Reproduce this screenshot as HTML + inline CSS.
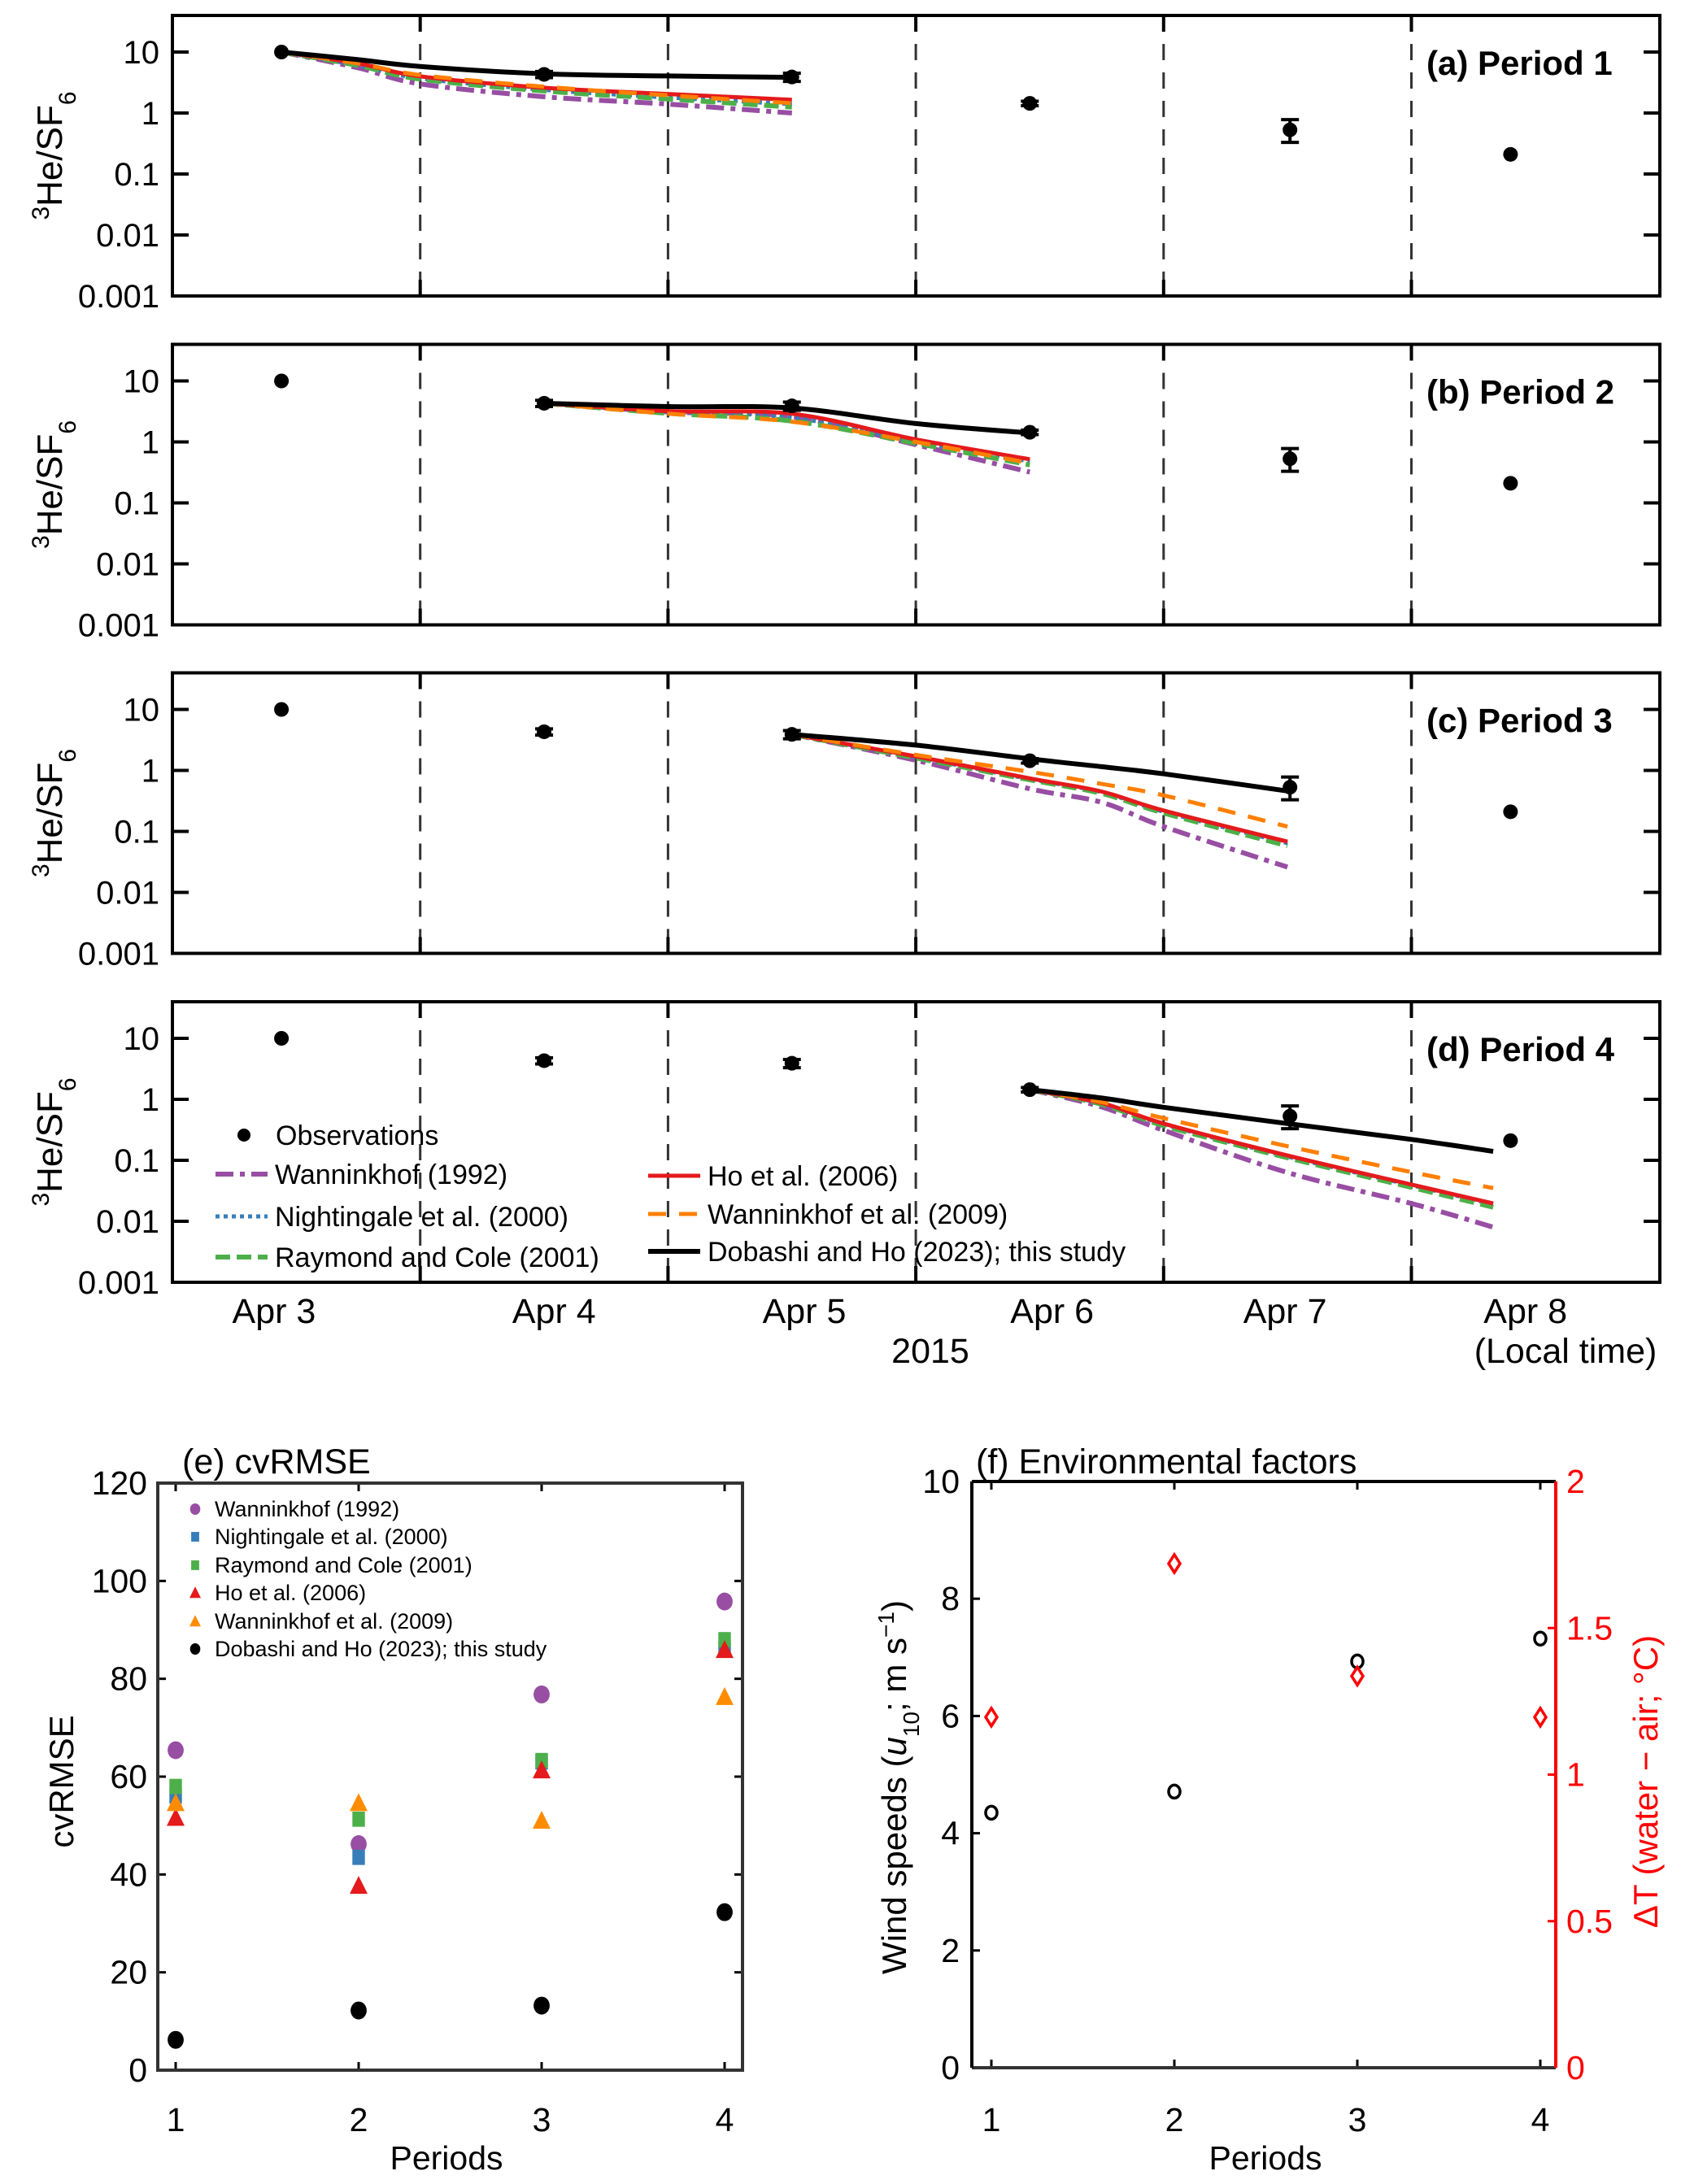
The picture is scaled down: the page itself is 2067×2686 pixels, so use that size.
<!DOCTYPE html>
<html><head><meta charset="utf-8"><style>
html,body{margin:0;padding:0;background:#fff}
svg text{font-family:"Liberation Sans",Arial,sans-serif}
</style></head><body>
<svg id="fig" xmlns="http://www.w3.org/2000/svg" width="2067" height="2681" viewBox="0 0 2067 2681">
<rect width="2067" height="2681" fill="#fff"/>
<g id="top"></g>
<g id="bottom"></g>
</svg>
<script>
// ===== Panel (a)-(d) data =====
const obsDays = [0.44, 1.50, 2.50, 3.46, 4.51, 5.40];
const obsVals = [10, 4.3, 3.9, 1.44, 0.53, 0.21];
const obsLo = [10, 3.8, 3.3, 1.32, 0.33, 0.21];
const obsHi = [10, 4.8, 4.5, 1.56, 0.78, 0.21];
const yTickVals = [10, 1, 0.1, 0.01, 0.001];
const yTickLabels = ["10", "1", "0.1", "0.01", "0.001"];
const dayLabels = ["Apr 3", "Apr 4", "Apr 5", "Apr 6", "Apr 7", "Apr 8"];
const dayLabelPos = [0.41, 1.54, 2.55, 3.55, 4.49, 5.46];
const panelTitles = ["(a) Period 1", "(b) Period 2", "(c) Period 3", "(d) Period 4"];

const tA = [0.44, 0.75, 1, 1.5, 2, 2.5];
const aPurple = [10, 5.5, 3.0, 1.85, 1.4, 1.0];
const aBlue = [10, 6.0, 3.7, 2.4, 1.8, 1.4];
const aGreen = [10, 6.0, 3.6, 2.3, 1.7, 1.25];
const aRed = [10, 6.5, 4.0, 2.6, 2.05, 1.65];
const aOrange = [10, 6.5, 4.2, 2.7, 1.95, 1.45];
const aBlack = [10, 7.5, 5.8, 4.4, 4.05, 3.85];

const tB = [1.5, 2, 2.5, 3, 3.46];
const bPurple = [4.3, 3.1, 2.6, 0.9, 0.32];
const bBlue = [4.3, 3.1, 2.5, 1.0, 0.48];
const bGreen = [4.3, 2.95, 2.2, 0.95, 0.42];
const bRed = [4.3, 3.2, 2.9, 1.1, 0.52];
const bOrange = [4.3, 2.9, 2.15, 1.0, 0.45];
const bBlack = [4.3, 3.8, 3.6, 2.0, 1.4];

const tC = [2.5, 3, 3.46, 3.75, 4, 4.5];
const cPurple = [3.9, 1.47, 0.5, 0.3, 0.12, 0.026];
const cBlue = [3.9, 1.65, 0.72, 0.44, 0.21, 0.064];
const cGreen = [3.9, 1.6, 0.70, 0.42, 0.20, 0.058];
const cRed = [3.9, 1.7, 0.74, 0.45, 0.22, 0.068];
const cOrange = [3.9, 1.8, 0.95, 0.6, 0.39, 0.12];
const cBlack = [3.9, 2.6, 1.55, 1.15, 0.88, 0.46];

const tD = [3.46, 3.75, 4, 4.5, 5, 5.33];
const dPurple = [1.44, 0.75, 0.31, 0.063, 0.0196, 0.008];
const dBlue = [1.44, 0.85, 0.39, 0.115, 0.039, 0.019];
const dGreen = [1.44, 0.83, 0.37, 0.11, 0.036, 0.017];
const dRed = [1.44, 0.87, 0.40, 0.12, 0.04, 0.0196];
const dOrange = [1.44, 0.9, 0.49, 0.17, 0.064, 0.035];
const dBlack = [1.44, 1.05, 0.74, 0.40, 0.22, 0.14];

// ===== Panel (e) data =====
const periods = [1, 2, 3, 4];
const eWann92 = [65.4, 46.2, 76.8, 95.8];
const eNight = [56, 43.5, 63, 86];
const eRaym = [58, 51.3, 63.3, 88];
const eHo = [51.6, 37.7, 61.3, 85.9];
const eWann09 = [54.6, 54.6, 51, 76.3];
const eDob = [6.2, 12.2, 13.2, 32.3];
const eTicks = [0, 20, 40, 60, 80, 100, 120];

// ===== Panel (f) data =====
const fWind = [4.35, 4.71, 6.93, 7.32];
const fDT = [1.196, 1.72, 1.336, 1.196];
const fWindTicks = [0, 2, 4, 6, 8, 10];
const fDTTicks = [0, 0.5, 1, 1.5, 2];
const fDTTickLabels = ["0", "0.5", "1", "1.5", "2"];

const NS = "http://www.w3.org/2000/svg";
function mk(tag, attrs, parent) {
  const e = document.createElementNS(NS, tag);
  for (const k in attrs) e.setAttribute(k, attrs[k]);
  parent.appendChild(e);
  return e;
}
const topG = document.getElementById("top");
const botG = document.getElementById("bottom");

const COL = {purple:"#984ea3", blue:"#377eb8", green:"#4daf4a", red:"#e41a1c", orange:"#ff7f00", black:"#000"};
const STY = {
  purple:{w:6, dash:"22 8 6 8"},
  blue:{w:5, dash:"5 5"},
  green:{w:6, dash:"18 8"},
  red:{w:5, dash:""},
  orange:{w:5, dash:"22 16"},
  black:{w:6, dash:""}
};

const L = 212, R = 2041, DAYW = 304.7;
const panelTops = [19, 423.5, 827.5, 1232];
const PH = 345, DEC = 75;
function X(d) { return L + d * DAYW; }
function Ylog(top, v) { return top + (1.6 - Math.log10(v)) * DEC; }

const panelSeries = [
  [tA, {purple:aPurple, blue:aBlue, green:aGreen, red:aRed, orange:aOrange, black:aBlack}],
  [tB, {purple:bPurple, blue:bBlue, green:bGreen, red:bRed, orange:bOrange, black:bBlack}],
  [tC, {purple:cPurple, blue:cBlue, green:cGreen, red:cRed, orange:cOrange, black:cBlack}],
  [tD, {purple:dPurple, blue:dBlue, green:dGreen, red:dRed, orange:dOrange, black:dBlack}]
];
const drawOrder = ["purple", "blue", "green", "red", "orange", "black"];
const letters = ["a", "b", "c", "d"];

function smoothPath(pts) {
  let d = "M" + pts[0][0].toFixed(1) + "," + pts[0][1].toFixed(1);
  for (let i = 0; i < pts.length - 1; i++) {
    const p0 = pts[Math.max(i - 1, 0)], p1 = pts[i], p2 = pts[i + 1], p3 = pts[Math.min(i + 2, pts.length - 1)];
    const c1x = p1[0] + (p2[0] - p0[0]) / 6, c1y = p1[1] + (p2[1] - p0[1]) / 6;
    const c2x = p2[0] - (p3[0] - p1[0]) / 6, c2y = p2[1] - (p3[1] - p1[1]) / 6;
    d += " C" + c1x.toFixed(1) + "," + c1y.toFixed(1) + " " + c2x.toFixed(1) + "," + c2y.toFixed(1) + " " + p2[0].toFixed(1) + "," + p2[1].toFixed(1);
  }
  return d;
}

panelTops.forEach((top, pi) => {
  const g = mk("g", {}, topG);
  
  
  const bot = top + PH;
  for (let d = 1; d <= 5; d++) {
    const ln = mk("line", {x1:X(d), x2:X(d), y1:top, y2:bot, stroke:"#333", "stroke-width":3, "stroke-dasharray":"20 15"}, g);
    
    
    mk("line", {x1:X(d), x2:X(d), y1:bot, y2:bot - 20, stroke:"#000", "stroke-width":4}, g);
    mk("line", {x1:X(d), x2:X(d), y1:top, y2:top + 20, stroke:"#000", "stroke-width":4}, g);
  }
  yTickVals.forEach((v, i) => {
    const y = Ylog(top, v);
    mk("line", {x1:L, x2:L + 20, y1:y, y2:y, stroke:"#000", "stroke-width":4}, g);
    mk("line", {x1:R, x2:R - 20, y1:y, y2:y, stroke:"#000", "stroke-width":4}, g);
    const t = mk("text", {x:196, y:y + 14, "font-size":40, "text-anchor":"end"}, g);
    t.textContent = yTickLabels[i];
    
    
  });
  const yl = mk("text", {x:0, y:0, "font-size":44, "text-anchor":"middle", transform:"translate(76," + (top + PH / 2) + ") rotate(-90)"}, g);
  
  
  yl.innerHTML = '<tspan baseline-shift="super" font-size="30">3</tspan><tspan>He/SF</tspan><tspan baseline-shift="sub" font-size="30">6</tspan>';
  const [ts, ser] = panelSeries[pi];
  drawOrder.forEach(k => {
    const pts = ts.map((t, i) => [X(t), Ylog(top, ser[k][i])]);
    const p = mk("path", {d:smoothPath(pts), fill:"none", stroke:COL[k], "stroke-width":STY[k].w, "stroke-dasharray":STY[k].dash}, g);
    
    
  });
  obsDays.forEach((d, i) => {
    const x = X(d);
    if (obsHi[i] !== obsLo[i]) {
      const y1 = Ylog(top, obsHi[i]), y2 = Ylog(top, obsLo[i]);
      mk("line", {x1:x, x2:x, y1:y1, y2:y2, stroke:"#000", "stroke-width":4}, g);
      mk("line", {x1:x - 11, x2:x + 11, y1:y1, y2:y1, stroke:"#000", "stroke-width":4}, g);
      mk("line", {x1:x - 11, x2:x + 11, y1:y2, y2:y2, stroke:"#000", "stroke-width":4}, g);
    }
    const c = mk("circle", {cx:x, cy:Ylog(top, obsVals[i]), r:9, fill:"#000"}, g);
    
    
  });
  const fr = mk("rect", {x:L, y:top, width:R - L, height:PH, fill:"none", stroke:"#000", "stroke-width":4}, g);
  
  
  const tt = mk("text", {x:1754, y:top + 73, "font-size":42, "font-weight":"bold"}, g);
  tt.textContent = panelTitles[pi];
  
  
});

dayLabels.forEach((s, i) => {
  const t = mk("text", {x:X(dayLabelPos[i]), y:1627, "font-size":43, "text-anchor":"middle"}, topG);
  t.textContent = s;
  
  
});
{
  const t1 = mk("text", {x:1144, y:1676, "font-size":43, "text-anchor":"middle"}, topG);
  t1.textContent = "2015";
  
  
  const t2 = mk("text", {x:1925, y:1676, "font-size":43, "text-anchor":"middle"}, topG);
  t2.textContent = "(Local time)";
  
  
}

{
  const lg = mk("g", {}, topG);
  
  
  mk("circle", {cx:300, cy:1396, r:8, fill:"#000"}, lg);
  const t0 = mk("text", {x:339, y:1408, "font-size":34}, lg);
  t0.textContent = "Observations";
  const items = [
    ["purple", "Wanninkhof (1992)", 265, 1444],
    ["blue", "Nightingale et al. (2000)", 265, 1496],
    ["green", "Raymond and Cole (2001)", 265, 1546],
    ["red", "Ho et al. (2006)", 797, 1446],
    ["orange", "Wanninkhof et al. (2009)", 797, 1493],
    ["black", "Dobashi and Ho (2023); this study", 797, 1539]
  ];
  items.forEach(it => {
    const e = mk("g", {}, lg);
    
    
    mk("line", {x1:it[2], x2:it[2] + 64, y1:it[3], y2:it[3], stroke:COL[it[0]], "stroke-width":STY[it[0]].w, "stroke-dasharray":STY[it[0]].dash}, e);
    const t = mk("text", {x:it[2] + 73, y:it[3] + 12, "font-size":34}, e);
    t.textContent = it[1];
  });
}

// ===== Panel e =====
const E_L = 194, E_R = 913, E_T = 1824, E_B = 2546;
function EX(p) { return 216 + (p - 1) * 225; }
function EY(v) { return E_B - v / 120 * (E_B - E_T); }
{
  const g = mk("g", {}, botG);
  
  
  eTicks.forEach(v => {
    const y = EY(v);
    mk("line", {x1:E_L, x2:E_L + 10, y1:y, y2:y, stroke:"#000", "stroke-width":3}, g);
    mk("line", {x1:E_R, x2:E_R - 10, y1:y, y2:y, stroke:"#000", "stroke-width":3}, g);
    const t = mk("text", {x:181, y:y + 14, "font-size":41, "text-anchor":"end"}, g);
    t.textContent = String(v);
    
    
  });
  periods.forEach(p => {
    const x = EX(p);
    mk("line", {x1:x, x2:x, y1:E_B, y2:E_B - 10, stroke:"#000", "stroke-width":3}, g);
    mk("line", {x1:x, x2:x, y1:E_T, y2:E_T + 10, stroke:"#000", "stroke-width":3}, g);
    const t = mk("text", {x:x, y:2621, "font-size":41, "text-anchor":"middle"}, g);
    t.textContent = String(p);
    
    
  });
  const sets = [
    [eWann92, "circle", COL.purple],
    [eNight, "square", COL.blue],
    [eRaym, "square", COL.green],
    [eHo, "tri", COL.red],
    [eWann09, "tri", "#ff8c00"],
    [eDob, "circle", "#000"]
  ];
  function marker(parent, shape, col, x, y, s) {
    let m;
    if (shape === "circle") m = mk("ellipse", {cx:x, cy:y, rx:s * 0.9, ry:s, fill:col}, parent);
    else if (shape === "square") m = mk("rect", {x:x - s * 0.7, y:y - s * 0.85, width:s * 1.4, height:s * 1.7, fill:col}, parent);
    else m = mk("polygon", {points:(x) + "," + (y - s * 1.1) + " " + (x - s) + "," + (y + s * 0.9) + " " + (x + s) + "," + (y + s * 0.9), fill:col}, parent);
    return m;
  }
  sets.forEach((s) => {
    s[0].forEach((v, i) => {
      const m = marker(g, s[1], s[2], EX(periods[i]), EY(v), 11);
      
      
    });
  });
  const fr = mk("rect", {x:E_L, y:E_T, width:E_R - E_L, height:E_B - E_T, fill:"none", stroke:"#333", "stroke-width":4}, g);
  
  
  const names = ["Wanninkhof (1992)", "Nightingale et al. (2000)", "Raymond and Cole (2001)", "Ho et al. (2006)", "Wanninkhof et al. (2009)", "Dobashi and Ho (2023); this study"];
  const rows = [1856, 1890, 1925, 1959, 1994, 2028];
  sets.forEach((s, i) => {
    const e = mk("g", {}, g);
    
    
    marker(e, s[1], s[2], 240, rows[i], 7);
    const t = mk("text", {x:264, y:rows[i] + 9, "font-size":27}, e);
    t.textContent = names[i];
  });
  const tt = mk("text", {x:224, y:1812, "font-size":43}, g);
  tt.textContent = "(e) cvRMSE";
  
  
  const xl = mk("text", {x:549, y:2668, "font-size":41, "text-anchor":"middle"}, g);
  xl.textContent = "Periods";
  
  
  const yl = mk("text", {x:0, y:0, "font-size":42, "text-anchor":"middle", transform:"translate(90,2191) rotate(-90)"}, g);
  yl.textContent = "cvRMSE";
  
  
}

// ===== Panel f =====
const F_L = 1195, F_R = 1913, F_T = 1822, F_B = 2543;
function FX(p) { return 1219 + (p - 1) * 225; }
function FYw(v) { return F_B - v / 10 * (F_B - F_T); }
function FYt(v) { return F_B - v / 2 * (F_B - F_T); }
{
  const g = mk("g", {}, botG);
  
  
  fWindTicks.forEach(v => {
    const y = FYw(v);
    mk("line", {x1:F_L, x2:F_L + 10, y1:y, y2:y, stroke:"#000", "stroke-width":3}, g);
    const t = mk("text", {x:1180, y:y + 14, "font-size":41, "text-anchor":"end"}, g);
    t.textContent = String(v);
    
    
  });
  fDTTicks.forEach((v, i) => {
    const y = FYt(v);
    mk("line", {x1:F_R, x2:F_R - 10, y1:y, y2:y, stroke:"#ff0000", "stroke-width":3}, g);
    const t = mk("text", {x:1926, y:y + 14, "font-size":41, fill:"#ff0000"}, g);
    t.textContent = fDTTickLabels[i];
    
    
  });
  periods.forEach(p => {
    const x = FX(p);
    mk("line", {x1:x, x2:x, y1:F_B, y2:F_B - 10, stroke:"#000", "stroke-width":3}, g);
    mk("line", {x1:x, x2:x, y1:F_T, y2:F_T + 10, stroke:"#000", "stroke-width":3}, g);
    const t = mk("text", {x:x, y:2621, "font-size":41, "text-anchor":"middle"}, g);
    t.textContent = String(p);
    
    
  });
  mk("line", {x1:F_L, x2:F_R, y1:F_T, y2:F_T, stroke:"#000", "stroke-width":4}, g);
  mk("line", {x1:F_L, x2:F_R, y1:F_B, y2:F_B, stroke:"#333", "stroke-width":4}, g);
  mk("line", {x1:F_L, x2:F_L, y1:F_T, y2:F_B, stroke:"#000", "stroke-width":4}, g);
  mk("line", {x1:F_R, x2:F_R, y1:F_T, y2:F_B, stroke:"#ff0000", "stroke-width":4}, g);
  fWind.forEach((v, i) => {
    const c = mk("ellipse", {cx:FX(periods[i]), cy:FYw(v), rx:7, ry:8, fill:"none", stroke:"#000", "stroke-width":3.5}, g);
    
    
  });
  fDT.forEach((v, i) => {
    const x = FX(periods[i]), y = FYt(v);
    const d = mk("polygon", {points:x + "," + (y - 11) + " " + (x + 7) + "," + y + " " + x + "," + (y + 11) + " " + (x - 7) + "," + y, fill:"none", stroke:"#ff0000", "stroke-width":3.5}, g);
    
    
  });
  const tt = mk("text", {x:1200, y:1812, "font-size":43}, g);
  tt.textContent = "(f) Environmental factors";
  
  
  const xl = mk("text", {x:1556, y:2668, "font-size":41, "text-anchor":"middle"}, g);
  xl.textContent = "Periods";
  
  
  const yl = mk("text", {x:0, y:0, "font-size":42, "text-anchor":"middle", transform:"translate(1114,2198) rotate(-90)"}, g);
  yl.innerHTML = 'Wind speeds (<tspan font-style="italic">u</tspan><tspan baseline-shift="sub" font-size="28">10</tspan>; m s<tspan baseline-shift="super" font-size="28">−1</tspan>)';
  
  
  const yr = mk("text", {x:0, y:0, "font-size":42, "text-anchor":"middle", fill:"#ff0000", transform:"translate(2038,2191) rotate(-90)"}, g);
  yr.textContent = "ΔT (water − air; °C)";
  
  
}
</script>
</body></html>
